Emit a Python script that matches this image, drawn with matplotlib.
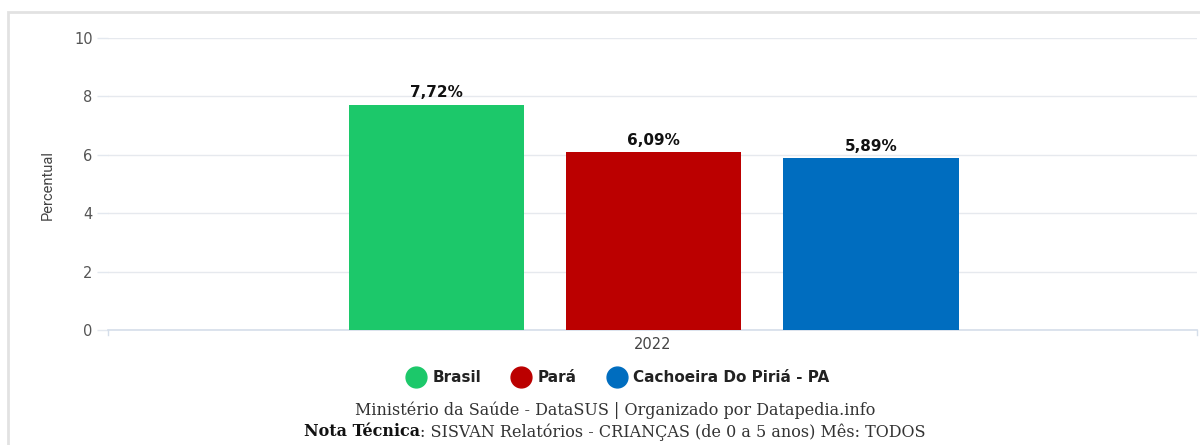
import matplotlib
matplotlib.use("Agg")
import matplotlib.pyplot as plt
from matplotlib.lines import Line2D
from matplotlib.patches import Rectangle

categories = ["2022"]
series_names = ["Brasil", "Pará", "Cachoeira Do Piriá - PA"]
series_values = [7.72, 6.09, 5.89]
value_labels = ["7,72%", "6,09%", "5,89%"]
series_colors = ["#1cc86a", "#bb0000", "#006dbf"]
y_ticks = [0, 2, 4, 6, 8, 10]
y_label = "Percentual"
footer_line1 = "Ministério da Saúde - DataSUS | Organizado por Datapedia.info"
footer_bold = "Nota Técnica"
footer_rest = ": SISVAN Relatórios - CRIANÇAS (de 0 a 5 anos) Mês: TODOS"

W, H = 1200, 445
fig = plt.figure(figsize=(W / 100, H / 100), dpi=100)
fig.patch.set_facecolor("white")

# outer frame
fig.add_artist(Rectangle((8 / W, -0.1), 1.2, (H - 12) / H + 0.1, transform=fig.transFigure,
                         fill=False, edgecolor="#e2e2e2", linewidth=2))

ax = fig.add_axes([108 / W, 1 - 330 / H, (1197 - 108) / W, (330 - 38) / H])
ax.set_facecolor("none")

bar_w = 0.161
step = 0.1995
for i, (name, v, c, lab) in enumerate(zip(series_names, series_values, series_colors, value_labels)):
    x = (i - 1) * step + 0.001
    ax.bar(x, v, width=bar_w, color=c, zorder=3)
    ax.annotate(lab, (x, v), xytext=(0, 3), textcoords="offset points", ha="center", va="bottom",
                fontsize=11, fontweight="bold", color="#111111", family="DejaVu Sans", zorder=4)

ax.set_xlim(-0.5, 0.5)
ax.set_ylim(0, 10)
ax.set_yticks(y_ticks)
ax.set_yticklabels([str(t) for t in y_ticks], family="DejaVu Sans", fontsize=10.5, color="#555555")
ax.tick_params(axis="y", length=8, color="#e3e8ef", width=1, pad=3)
ax.set_xticks([0])
ax.set_xticklabels(categories, family="DejaVu Sans", fontsize=10.5, color="#444444")
ax.tick_params(axis="x", length=0, pad=5)
ax.grid(axis="y", color="#e6e9ee", linewidth=1, zorder=0)
for s in ["top", "right", "left"]:
    ax.spines[s].set_visible(False)
ax.spines["bottom"].set_color("#d5deea")
ax.spines["bottom"].set_linewidth(1.2)
# small ticks at axis ends
ax.plot([-0.5, -0.5], [0, -0.18], color="#d5deea", lw=1, clip_on=False)
ax.plot([0.5, 0.5], [0, -0.18], color="#d5deea", lw=1, clip_on=False)

fig.text(48 / W, 1 - 185 / H, y_label, rotation=90, ha="center", va="center",
         fontsize=10.5, color="#444444", family="Roboto", fontstretch="condensed")

handles = [Line2D([], [], marker="o", linestyle="", markersize=15, markerfacecolor=c,
                  markeredgecolor=c) for c in series_colors]
leg = fig.legend(handles, series_names, loc="center", bbox_to_anchor=(615 / W, 1 - 378 / H),
                 ncol=3, frameon=False, handletextpad=0.1, columnspacing=1.6,
                 prop={"family": "DejaVu Sans", "weight": "bold", "size": 11})
for t in leg.get_texts():
    t.set_color("#222222")

fig.text(615 / W, 1 - 410 / H, footer_line1, ha="center", va="center", fontsize=11.5,
         family="DejaVu Serif", color="#333333")

# second line: bold + normal
r = fig.canvas.get_renderer()
tb = fig.text(0, 0, footer_bold, fontsize=11.5, family="DejaVu Serif", fontweight="bold", color="#111111")
tn = fig.text(0, 0, footer_rest, fontsize=11.5, family="DejaVu Serif", color="#333333")
wb = tb.get_window_extent(r).width
wn = tn.get_window_extent(r).width
x0 = 615 - (wb + wn) / 2
yy = 1 - 432 / H
tb.set_position((x0 / W, yy)); tb.set_va("center")
tn.set_position(((x0 + wb) / W, yy)); tn.set_va("center")

fig.savefig("out.png", dpi=100)
